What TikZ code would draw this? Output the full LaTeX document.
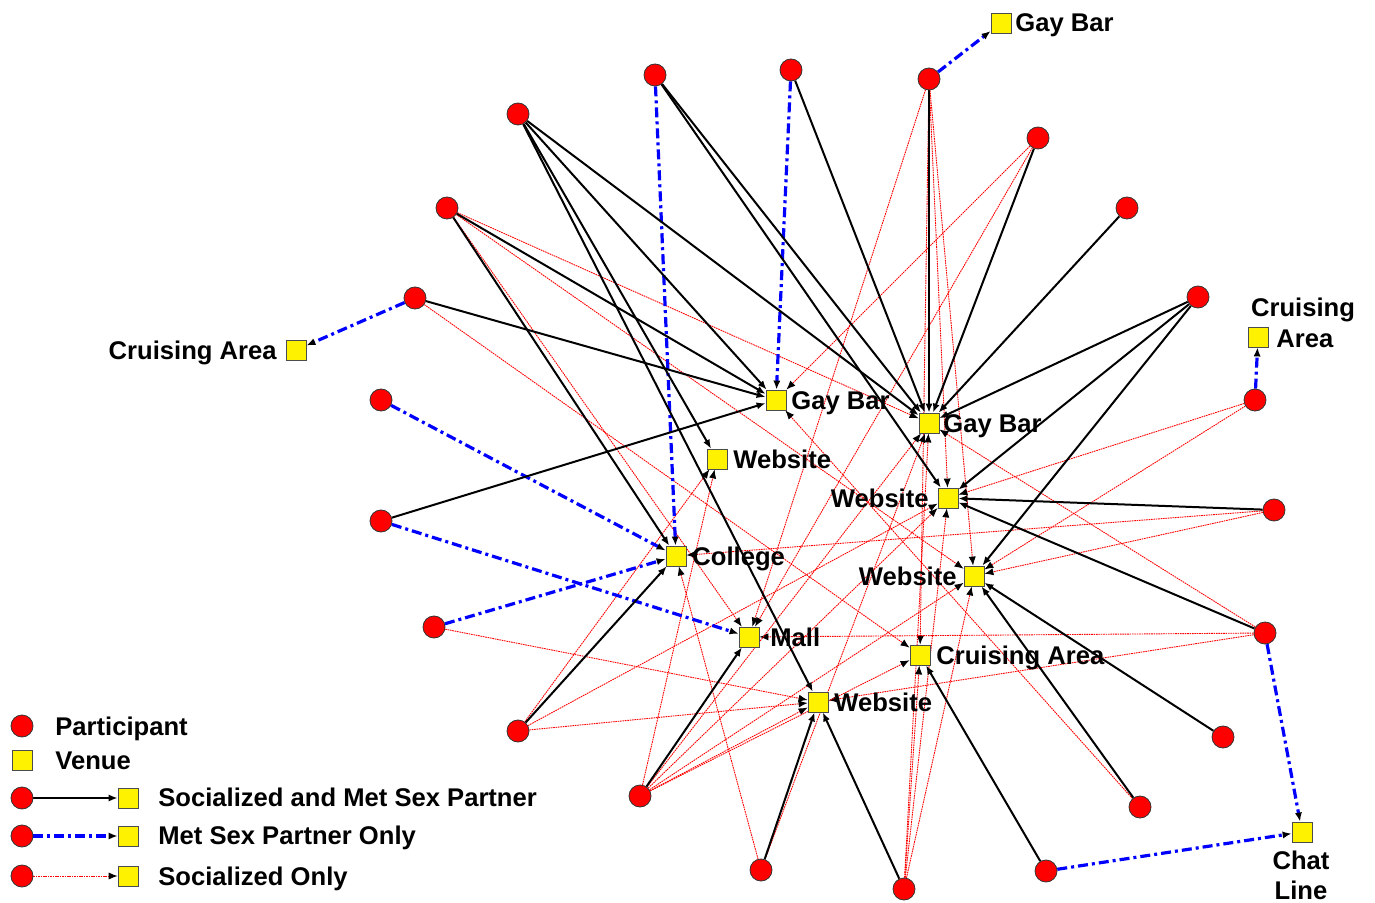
\documentclass[tikz,border=0pt]{standalone}
\usepackage{fontspec}
\setmainfont{Liberation Sans}
\usetikzlibrary{arrows.meta}
\pgfdeclarelayer{bg}
\pgfdeclarelayer{edges}
\pgfsetlayers{bg,edges,main}
\begin{document}
\begin{tikzpicture}[x=0.5pt,y=-0.5pt,
 part/.style={circle,draw=black!80,fill=red,minimum size=11pt,inner sep=0pt,line width=0.4pt},
 venue/.style={rectangle,draw=black!70,fill=yellow,minimum size=10pt,inner sep=0pt,line width=0.4pt},
 lbl/.style={font=\fontsize{12.8}{14}\selectfont\bfseries,inner sep=0pt},
 tip/.style={-{Latex[black,length=4.5pt,width=3.6pt]}},
 socmet/.style={tip,draw=black,line width=1pt},
 metonly/.style={tip,draw=blue,line width=1.6pt,dash pattern=on 5pt off 2pt on 1.5pt off 2pt},
 soconly/.style={tip,draw=red,line width=0.45pt,dash pattern=on 0.8pt off 0.4pt},
]
\useasboundingbox (0,0) rectangle (1375,903);
\begin{pgfonlayer}{bg}
\fill[white] (0,0) rectangle (1375,903);
\end{pgfonlayer}

% participants
\node[part] (p1) at (655,75) {};
\node[part] (p2) at (791,70) {};
\node[part] (p3) at (929,79) {};
\node[part] (p4) at (518,114) {};
\node[part] (p5) at (1038,138) {};
\node[part] (p6) at (447,208) {};
\node[part] (p7) at (1127,208) {};
\node[part] (p8) at (1198,297) {};
\node[part] (p9) at (415,298) {};
\node[part] (p10) at (381,400) {};
\node[part] (p11) at (1255,400) {};
\node[part] (p12) at (1274,510) {};
\node[part] (p13) at (381,521) {};
\node[part] (p14) at (434,627) {};
\node[part] (p15) at (1265,633) {};
\node[part] (p16) at (518,731) {};
\node[part] (p17) at (1223,737) {};
\node[part] (p18) at (640,796) {};
\node[part] (p19) at (1140,807) {};
\node[part] (p20) at (761,870) {};
\node[part] (p21) at (1046,871) {};
\node[part] (p22) at (904,889) {};

% venues
\node[venue] (vgbt) at (1001,23) {};
\node[venue] (vcl) at (296,350) {};
\node[venue] (vcr) at (1258,337) {};
\node[venue] (vchat) at (1302,832) {};
\node[venue] (vgb1) at (776,400) {};
\node[venue] (vgb2) at (929,423) {};
\node[venue] (vweb1) at (717,459) {};
\node[venue] (vweb2) at (948,498) {};
\node[venue] (vcol) at (676,556) {};
\node[venue] (vweb3) at (974,576) {};
\node[venue] (vmall) at (749,637) {};
\node[venue] (vcm) at (920,655) {};
\node[venue] (vweb4) at (818,702) {};

% venue labels
\node[lbl,anchor=base west] (tgbt) at (1015,32) {Gay Bar};
\node[lbl,anchor=base east] (tcl) at (277,359) {Cruising Area};
\node[lbl,anchor=base] (tcr1) at (1303,317) {Cruising};
\node[lbl,anchor=base west] (tcr2) at (1276,348) {Area};
\node[lbl,anchor=base] (tchat1) at (1301,869) {Chat};
\node[lbl,anchor=base] (tchat2) at (1301,899) {Line};
\node[lbl,anchor=base west] (tgb1) at (791,409) {Gay Bar};
\node[lbl,anchor=base west] (tgb2) at (943,432) {Gay Bar};
\node[lbl,anchor=base west] (tweb1) at (733,468) {Website};
\node[lbl,anchor=base east] (tweb2) at (929,507) {Website};
\node[lbl,anchor=base west] (tcol) at (692,565) {College};
\node[lbl,anchor=base east] (tweb3) at (957,585) {Website};
\node[lbl,anchor=base west] (tmall) at (770,646) {Mall};
\node[lbl,anchor=base west] (tcm) at (936,664) {Cruising Area};
\node[lbl,anchor=base west] (tweb4) at (834,711) {Website};

% legend
\node[part] (lp) at (22,726) {};
\node[lbl,anchor=base west] (tlp) at (55,735) {Participant};
\node[venue] (lv) at (22,760) {};
\node[lbl,anchor=base west] (tlv) at (55,769) {Venue};
\node[part] (la1) at (22,798) {};
\node[venue] (lb1) at (128,798) {};
\node[lbl,anchor=base west] (tl1) at (158,806) {Socialized and Met Sex Partner};
\node[part] (la2) at (22,836) {};
\node[venue] (lb2) at (128,836) {};
\node[lbl,anchor=base west] (tl2) at (158,844) {Met Sex Partner Only};
\node[part] (la3) at (22,876) {};
\node[venue] (lb3) at (128,876) {};
\node[lbl,anchor=base west] (tl3) at (158,885) {Socialized Only};

\begin{pgfonlayer}{edges}
% socialized only
\foreach \a/\b in {p6/vgb2,p6/vweb3,p6/vmall,p9/vcm,p3/vmall,p3/vweb2,p3/vweb3,p3/vcm,
  p5/vgb1,p5/vmall,p11/vweb2,p11/vweb3,p12/vcol,p12/vweb3,p15/vgb2,p15/vmall,p15/vweb4,
  p19/vgb1,p22/vgb2,p22/vweb2,p22/vweb3,p22/vcm,p20/vcol,p20/vgb2,
  p18/vweb1,p18/vweb4,p18/vcm,p18/vweb3,p18/vweb2,p18/vgb2,
  p16/vweb4,p16/vweb1,p16/vweb2,p14/vweb4}
  \draw[soconly] (\a) -- (\b);
% met sex partner only
\foreach \a/\b in {p3/vgbt,p9/vcl,p1/vcol,p2/vgb1,p10/vcol,p13/vmall,p14/vcol,p11/vcr,p15/vchat,p21/vchat}
  \draw[metonly] (\a) -- (\b);
% socialized and met
\foreach \a/\b in {p4/vgb2,p4/vgb1,p4/vweb1,p4/vweb4,p6/vcol,p6/vgb1,p9/vgb1,p13/vgb1,
  p1/vgb2,p1/vweb2,p2/vgb2,p3/vgb2,p5/vgb2,p7/vgb2,p8/vgb2,p8/vweb2,p8/vweb3,
  p12/vweb2,p15/vweb2,p17/vweb3,p19/vweb3,p21/vcm,p22/vweb4,p20/vweb4,p18/vmall,p16/vcol}
  \draw[socmet] (\a) -- (\b);
% legend connectors
\draw[socmet] (la1) -- (lb1);
\draw[metonly] (la2) -- (lb2);
\draw[soconly] (la3) -- (lb3);
\end{pgfonlayer}
\end{tikzpicture}
\end{document}
